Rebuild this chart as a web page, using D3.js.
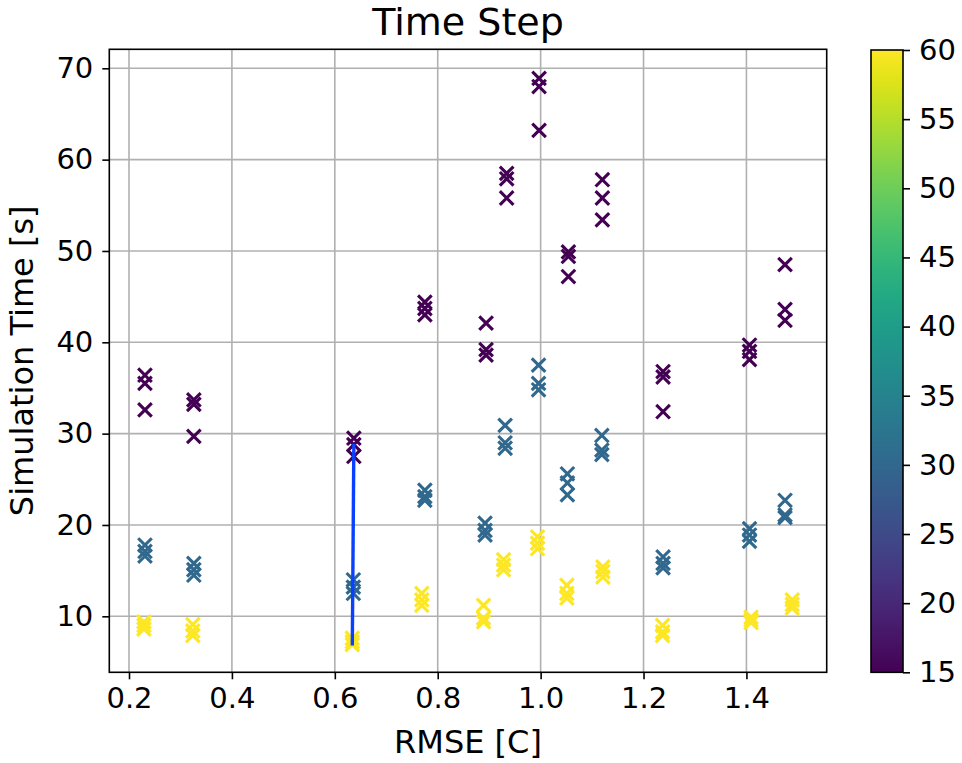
<!DOCTYPE html>
<html>
<head>
<meta charset="utf-8">
<script src="https://cdn.jsdelivr.net/npm/d3@7"></script>
<style>
  body { margin: 0; background: #fff; }
  text { font-family: "DejaVu Sans", sans-serif; fill: #000; }
</style>
</head>
<body>
<div id="chart"></div>
<script>
// time step 15
var rmse15 = [0.231, 0.231, 0.231, 0.326, 0.326, 0.326, 0.637, 0.637, 0.637, 0.775, 0.775, 0.775,
  0.894, 0.894, 0.894, 0.934, 0.934, 0.934, 0.997, 0.997, 0.997, 1.054, 1.054, 1.054,
  1.120, 1.120, 1.120, 1.238, 1.238, 1.238, 1.406, 1.406, 1.406, 1.475, 1.475, 1.475];
var time15 = [36.4, 35.5, 32.6, 33.7, 33.2, 29.7, 29.5, 28.8, 27.5, 44.4, 43.7, 43.0,
  42.1, 39.2, 38.6, 58.5, 57.9, 55.8, 68.9, 68.0, 63.2, 49.9, 49.4, 47.2,
  57.8, 55.8, 53.4, 36.8, 36.2, 32.4, 39.7, 39.0, 38.1, 48.5, 43.6, 42.4];

// time step 30
var rmse30 = [0.231, 0.231, 0.231, 0.326, 0.326, 0.326, 0.636, 0.636, 0.636, 0.775, 0.775, 0.775,
  0.892, 0.892, 0.892, 0.931, 0.931, 0.931, 0.996, 0.996, 0.996, 1.052, 1.052, 1.052,
  1.119, 1.119, 1.119, 1.238, 1.238, 1.238, 1.406, 1.406, 1.406, 1.475, 1.475, 1.475];
var time30 = [17.8, 17.1, 16.6, 15.8, 15.1, 14.5, 14.0, 13.2, 12.5, 23.8, 23.1, 22.7,
  20.2, 19.4, 18.9, 30.9, 29.0, 28.4, 37.5, 35.5, 34.8, 25.6, 24.6, 23.3,
  29.8, 28.2, 27.7, 16.5, 15.8, 15.3, 19.6, 18.9, 18.2, 22.7, 21.1, 20.8];

// time step 60
var rmse60 = [0.229, 0.229, 0.229, 0.324, 0.324, 0.324, 0.634, 0.634, 0.634, 0.769, 0.769, 0.769,
  0.889, 0.889, 0.889, 0.928, 0.928, 0.928, 0.994, 0.994, 0.994, 1.051, 1.051, 1.051,
  1.121, 1.121, 1.121, 1.237, 1.237, 1.237, 1.409, 1.409, 1.409, 1.489, 1.489, 1.489];
var time60 = [9.4, 9.0, 8.6, 9.1, 8.4, 7.9, 7.6, 7.2, 6.9, 12.5, 11.8, 11.2,
  11.2, 9.8, 9.4, 16.2, 15.6, 15.1, 18.7, 18.0, 17.4, 13.4, 12.5, 12.0,
  15.4, 14.9, 14.3, 9.0, 8.3, 7.9, 9.9, 9.6, 9.3, 11.8, 11.3, 10.9];

// blue line
var lineRmse = [0.637, 0.634];
var lineTime = [28.9, 6.8];

var xTicks = [0.2, 0.4, 0.6, 0.8, 1.0, 1.2, 1.4];
var yTicks = [10, 20, 30, 40, 50, 60, 70];
var cTicks = [15, 20, 25, 30, 35, 40, 45, 50, 55, 60];

var w = 962, h = 763;
var padL = 109.3, padR = 826.7, padT = 49.3, padB = 672.3;

var svg = d3.select("#chart").append("svg")
  .attr("width", w)
  .attr("height", h);

var x = d3.scaleLinear().domain([0.1617, 1.556]).range([padL, padR]);
var y = d3.scaleLinear().domain([3.87, 72.08]).range([padB, padT]);
var c = d3.scaleSequential(d3.interpolateViridis).domain([15, 60]);

var points = [];
function addSeries(xs, ys, step) {
  for (var i = 0; i < xs.length; i++) points.push([xs[i], ys[i], step]);
}
addSeries(rmse15, time15, 15);
addSeries(rmse30, time30, 30);
addSeries(rmse60, time60, 60);

// grid
svg.append("g")
  .selectAll("line")
  .data(xTicks)
  .enter()
  .append("line")
  .attr("x1", function(d) { return x(d); })
  .attr("x2", function(d) { return x(d); })
  .attr("y1", padT)
  .attr("y2", padB)
  .attr("stroke", "#b0b0b0")
  .attr("stroke-width", 1.6);

svg.append("g")
  .selectAll("line")
  .data(yTicks)
  .enter()
  .append("line")
  .attr("y1", function(d) { return y(d); })
  .attr("y2", function(d) { return y(d); })
  .attr("x1", padL)
  .attr("x2", padR)
  .attr("stroke", "#b0b0b0")
  .attr("stroke-width", 1.6);

// markers
var m = 6.8;
svg.append("g")
  .selectAll("path")
  .data(points)
  .enter()
  .append("path")
  .attr("d", function(d) {
    var px = x(d[0]), py = y(d[1]);
    return "M" + (px - m) + "," + (py - m) + "L" + (px + m) + "," + (py + m) +
      "M" + (px - m) + "," + (py + m) + "L" + (px + m) + "," + (py - m);
  })
  .attr("stroke", function(d) { return c(d[2]); })
  .attr("stroke-width", 3.1)
  .attr("fill", "none");

svg.append("path")
  .datum(d3.zip(lineRmse, lineTime))
  .attr("d", d3.line()
    .x(function(d) { return x(d[0]); })
    .y(function(d) { return y(d[1]); }))
  .attr("stroke", "#0a40ff")
  .attr("stroke-width", 3.4)
  .attr("fill", "none");

// axes
var xAxis = d3.axisBottom(x).tickValues(xTicks).tickSize(7).tickPadding(8)
  .tickFormat(d3.format(".1f"));
var yAxis = d3.axisLeft(y).tickValues(yTicks).tickSize(7).tickPadding(9);

var gx = svg.append("g")
  .attr("transform", "translate(0," + padB + ")")
  .call(xAxis);
var gy = svg.append("g")
  .attr("transform", "translate(" + padL + ",0)")
  .call(yAxis);

[gx, gy].forEach(function(g) {
  g.select(".domain").remove();
  g.selectAll(".tick line").attr("stroke", "#000").attr("stroke-width", 1.6);
  g.selectAll(".tick text")
    .style("font-family", "DejaVu Sans")
    .style("font-size", "29px")
    .attr("fill", "#000");
});

svg.append("rect")
  .attr("x", padL)
  .attr("y", padT)
  .attr("width", padR - padL)
  .attr("height", padB - padT)
  .attr("fill", "none")
  .attr("stroke", "#000")
  .attr("stroke-width", 1.6);

// titles
svg.append("text")
  .attr("x", (padL + padR) / 2)
  .attr("y", 35)
  .attr("text-anchor", "middle")
  .style("font-size", "38px")
  .text("Time Step");

svg.append("text")
  .attr("x", (padL + padR) / 2)
  .attr("y", 753)
  .attr("text-anchor", "middle")
  .style("font-size", "32px")
  .text("RMSE [C]");

svg.append("text")
  .attr("transform", "translate(33," + ((padT + padB) / 2) + ") rotate(-90)")
  .attr("text-anchor", "middle")
  .style("font-size", "32px")
  .text("Simulation Time [s]");

// colorbar
var cbLeft = 871, cbWidth = 32;
var defs = svg.append("defs");
var grad = defs.append("linearGradient")
  .attr("id", "viridis")
  .attr("x1", "0").attr("y1", "1")
  .attr("x2", "0").attr("y2", "0");
grad.selectAll("stop")
  .data(d3.range(0, 1.0001, 0.05))
  .enter()
  .append("stop")
  .attr("offset", function(d) { return d; })
  .attr("stop-color", function(d) { return d3.interpolateViridis(d); });

var cy = d3.scaleLinear().domain([15, 60]).range([padB, padT + 0.7]);

svg.append("rect")
  .attr("x", cbLeft)
  .attr("y", cy(60))
  .attr("width", cbWidth)
  .attr("height", cy(15) - cy(60))
  .attr("fill", "url(#viridis)")
  .attr("stroke", "#000")
  .attr("stroke-width", 1.6);

var cAxis = d3.axisRight(cy).tickValues(cTicks).tickSize(7).tickPadding(9);
var gc = svg.append("g")
  .attr("transform", "translate(" + (cbLeft + cbWidth) + ",0)")
  .call(cAxis);
gc.select(".domain").remove();
gc.selectAll(".tick line").attr("stroke", "#000").attr("stroke-width", 1.6);
gc.selectAll(".tick text")
  .style("font-family", "DejaVu Sans")
  .style("font-size", "29px")
  .attr("fill", "#000");
</script>
</body>
</html>
